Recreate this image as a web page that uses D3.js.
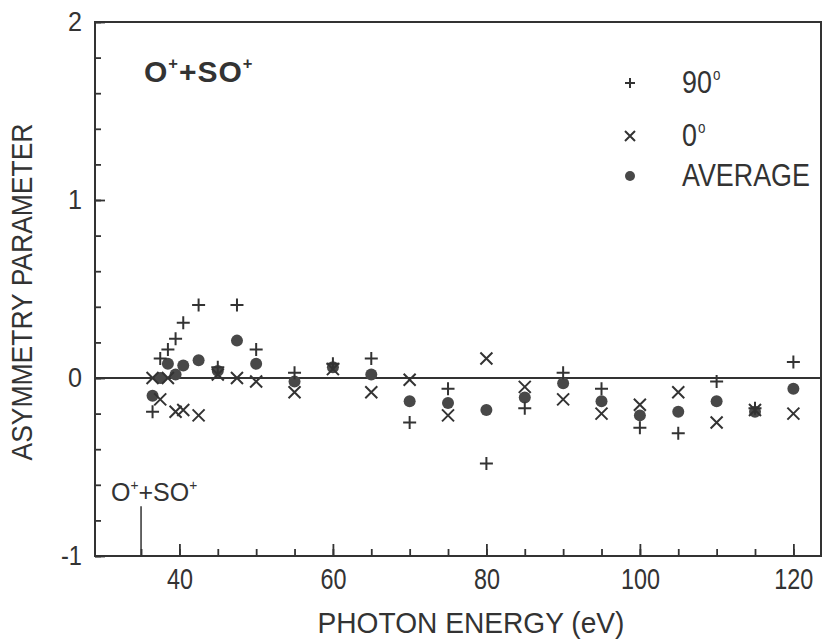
<!DOCTYPE html>
<html>
<head>
<meta charset="utf-8">
<script src="https://cdn.jsdelivr.net/npm/d3@7"></script>
<style>
  body { margin: 0; background: #fff; }
  text { font-family: "Liberation Sans", Arial, sans-serif; fill: #333; }
</style>
</head>
<body>
<svg id="chart" width="824" height="639"></svg>
<script>
// photon energies (eV)
var energy = [36.5, 37.5, 38.5, 39.5, 40.5, 42.5, 45, 47.5, 50, 55, 60, 65, 70, 75, 80, 85, 90, 95, 100, 105, 110, 115, 120];
// asymmetry parameter, 90 deg detection
var beta90 = [-0.19, 0.11, 0.16, 0.22, 0.31, 0.41, 0.06, 0.41, 0.16, 0.03, 0.08, 0.11, -0.25, -0.06, -0.48, -0.17, 0.03, -0.06, -0.28, -0.31, -0.02, -0.17, 0.09];
// asymmetry parameter, 0 deg detection
var beta0 = [0.0, -0.12, 0.0, -0.19, -0.18, -0.21, 0.02, 0.0, -0.02, -0.08, 0.05, -0.08, -0.01, -0.21, 0.11, -0.05, -0.12, -0.20, -0.15, -0.08, -0.25, -0.18, -0.20];
// average
var betaAvg = [-0.10, 0.0, 0.08, 0.02, 0.07, 0.10, 0.04, 0.21, 0.08, -0.02, 0.06, 0.02, -0.13, -0.14, -0.18, -0.11, -0.03, -0.13, -0.21, -0.19, -0.13, -0.19, -0.06];

var xMajor = [40, 60, 80, 100, 120];
var xMinor = d3.range(35, 125, 5);
var yMajor = [-1, 0, 1, 2];
var yMinor = d3.range(-1, 2.01, 0.2);
var threshold = 35;  // O+ + SO+ onset

var ink = "#333";

var svg = d3.select("#chart");

var x = d3.scaleLinear().domain([29, 123.6]).range([95, 821]);
var y = d3.scaleLinear().domain([-1, 2]).range([556, 22]);

// frame
svg.append("rect")
    .attr("x", x.range()[0]).attr("y", y.range()[1])
    .attr("width", x.range()[1] - x.range()[0])
    .attr("height", y.range()[0] - y.range()[1])
    .attr("fill", "none").attr("stroke", ink).attr("stroke-width", 2);

// x axis minor + major ticks
svg.append("g")
    .attr("transform", "translate(0," + y(-1) + ")")
    .call(d3.axisBottom(x).tickValues(xMinor).tickSize(-7).tickSizeOuter(0).tickFormat(""));
var gx = svg.append("g")
    .attr("transform", "translate(0," + y(-1) + ")")
    .call(d3.axisBottom(x).tickValues(xMajor).tickSize(-12).tickSizeOuter(0).tickPadding(12));

// y axis
svg.append("g")
    .attr("transform", "translate(" + x(29) + ",0)")
    .call(d3.axisLeft(y).tickValues(yMinor).tickSize(-6).tickSizeOuter(0).tickFormat(""));
var gy = svg.append("g")
    .attr("transform", "translate(" + x(29) + ",0)")
    .call(d3.axisLeft(y).tickValues(yMajor).tickSize(-10).tickSizeOuter(0).tickPadding(13)
      .tickFormat(function(d) { return String(d); }));

svg.selectAll(".domain").remove();
svg.selectAll(".tick line").attr("stroke", ink).attr("stroke-width", 1.8);
gx.selectAll(".tick text").attr("font-size", 30).style("fill", ink)
    .attr("textLength", function(d) { return String(d).length * 13; })
    .attr("lengthAdjust", "spacingAndGlyphs");
gy.selectAll(".tick text").attr("font-size", 28).style("fill", ink)
    .attr("textLength", function(d) { return d < 0 ? 21 : 14; })
    .attr("lengthAdjust", "spacingAndGlyphs");

// zero line
svg.append("line")
    .attr("x1", x(29)).attr("x2", x(123.6))
    .attr("y1", y(0)).attr("y2", y(0))
    .attr("stroke", ink).attr("stroke-width", 2);

// threshold marker
svg.append("line")
    .attr("x1", x(threshold)).attr("x2", x(threshold))
    .attr("y1", y(-1)).attr("y2", y(-0.72))
    .attr("stroke", ink).attr("stroke-width", 1.5);

function ionLabel(sel, size, weight) {
  sel.attr("font-size", size).attr("font-weight", weight);
  sel.append("tspan").text("O");
  sel.append("tspan").attr("dy", -size * 0.45).attr("font-size", size * 0.55).text("+");
  sel.append("tspan").attr("dy", size * 0.45).text("+SO");
  sel.append("tspan").attr("dy", -size * 0.45).attr("font-size", size * 0.55).text("+");
}
svg.append("text").attr("x", 111).attr("y", 501).call(ionLabel, 25, "normal");
svg.append("text").attr("x", 144).attr("y", 82).attr("letter-spacing", 1).call(ionLabel, 30, "bold");

// markers
var points = energy.map(function(e, i) { return {e: e, p: beta90[i], c: beta0[i], a: betaAvg[i]}; });

svg.append("g").selectAll("circle")
    .data(points).enter().append("circle")
    .attr("cx", function(d) { return x(d.e); })
    .attr("cy", function(d) { return y(d.a); })
    .attr("r", 6)
    .attr("fill", "#484848");

var plusPath = "M-6.5,0H6.5M0,-6.5V6.5";
var crossPath = "M-6,-6L6,6M-6,6L6,-6";

svg.append("g").selectAll("path")
    .data(points).enter().append("path")
    .attr("transform", function(d) { return "translate(" + x(d.e) + "," + y(d.p) + ")"; })
    .attr("d", plusPath)
    .attr("stroke", ink).attr("stroke-width", 2).attr("fill", "none");

svg.append("g").selectAll("path")
    .data(points).enter().append("path")
    .attr("transform", function(d) { return "translate(" + x(d.e) + "," + y(d.c) + ")"; })
    .attr("d", crossPath)
    .attr("stroke", ink).attr("stroke-width", 2).attr("fill", "none");

// legend
var legendItems = ["90", "0", "AVERAGE"];
var legendY = [83, 136, 176];
var legend = svg.append("g");
legend.append("path").attr("transform", "translate(630," + legendY[0] + ")").attr("d", "M-5,0H5M0,-5V5")
    .attr("stroke", ink).attr("stroke-width", 2);
legend.append("path").attr("transform", "translate(630," + legendY[1] + ")").attr("d", "M-5,-5L5,5M-5,5L5,-5")
    .attr("stroke", ink).attr("stroke-width", 2);
legend.append("circle").attr("cx", 630).attr("cy", legendY[2]).attr("r", 5).attr("fill", "#484848");

legendItems.forEach(function(t, i) {
  var g = legend.append("g")
      .attr("transform", "translate(682," + (legendY[i] + 10) + ") scale(0.84,1)");
  var txt = g.append("text").attr("x", 0).attr("y", 0).attr("font-size", 32).text(t);
  if (i < 2) {
    g.append("text").attr("x", t.length * 18 + 1).attr("y", -13).attr("font-size", 16).text("o");
  }
});

// axis titles
svg.append("text")
    .attr("x", 471).attr("y", 633)
    .attr("text-anchor", "middle").attr("font-size", 30)
    .attr("textLength", 307).attr("lengthAdjust", "spacingAndGlyphs")
    .text("PHOTON ENERGY  (eV)");

svg.append("text")
    .attr("transform", "translate(32,292) rotate(-90)")
    .attr("text-anchor", "middle").attr("font-size", 29)
    .attr("textLength", 337).attr("lengthAdjust", "spacingAndGlyphs")
    .text("ASYMMETRY PARAMETER");
</script>
</body>
</html>
